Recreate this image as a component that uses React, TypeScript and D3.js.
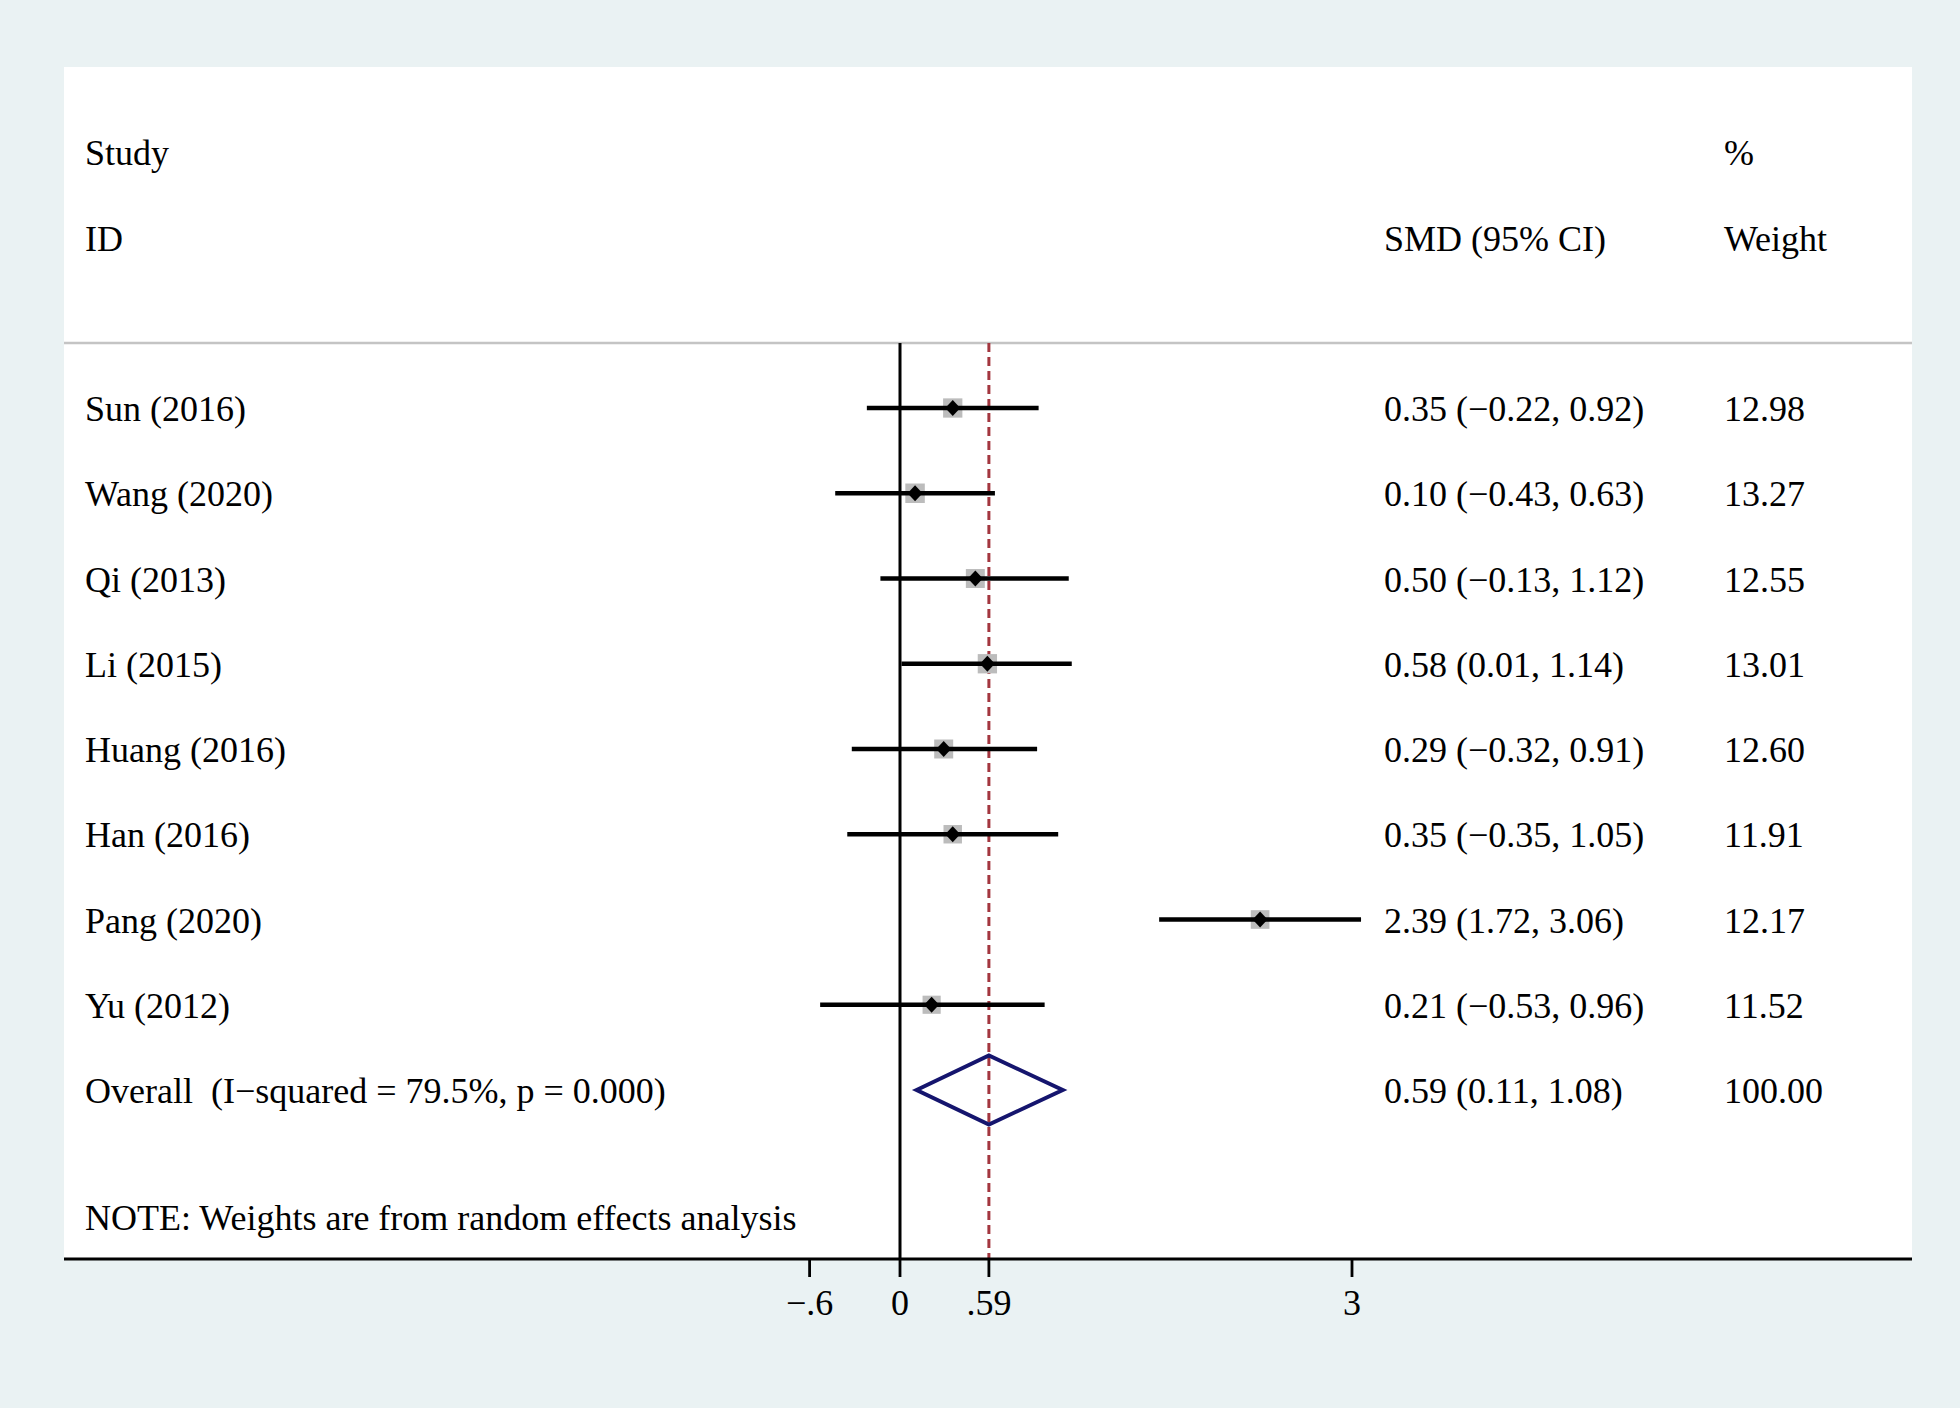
import React from "react";
import * as d3 from "d3";

const studies = ["Sun (2016)", "Wang (2020)", "Qi (2013)", "Li (2015)", "Huang (2016)", "Han (2016)", "Pang (2020)", "Yu (2012)"];
const smd = [0.35, 0.10, 0.50, 0.58, 0.29, 0.35, 2.39, 0.21];
const lower = [-0.22, -0.43, -0.13, 0.01, -0.32, -0.35, 1.72, -0.53];
const upper = [0.92, 0.63, 1.12, 1.14, 0.91, 1.05, 3.06, 0.96];
const weights = [12.98, 13.27, 12.55, 13.01, 12.60, 11.91, 12.17, 11.52];
const ciLabels = [
  "0.35 (\u22120.22, 0.92)",
  "0.10 (\u22120.43, 0.63)",
  "0.50 (\u22120.13, 1.12)",
  "0.58 (0.01, 1.14)",
  "0.29 (\u22120.32, 0.91)",
  "0.35 (\u22120.35, 1.05)",
  "2.39 (1.72, 3.06)",
  "0.21 (\u22120.53, 0.96)",
];
const weightLabels = ["12.98", "13.27", "12.55", "13.01", "12.60", "11.91", "12.17", "11.52"];
const overallLabel = "Overall  (I\u2212squared = 79.5%, p = 0.000)";
const overallEst = 0.59;
const overallLower = 0.11;
const overallUpper = 1.08;
const overallCI = "0.59 (0.11, 1.08)";
const overallWeight = "100.00";
const tickValues = [-0.6, 0, 0.59, 3];
const tickLabels = ["\u2212.6", "0", ".59", "3"];
const noteText = "NOTE: Weights are from random effects analysis";

const W = 1960;
const H = 1408;
const FONT = "'Liberation Serif', 'Times New Roman', serif";
const FS = 36;

export default function App() {
  const x = d3.scaleLinear().domain([0, 3]).range([900, 1352]);
  const rowKeys = [...studies, "Overall"];
  const y = d3.scalePoint<string>().domain(rowKeys).range([408, 1090]);
  const boxSide = (w: number) => 5.35 * Math.sqrt(w);

  const plotLeft = 64;
  const plotRight = 1912;
  const plotTop = 67;
  const axisY = 1259;
  const headerLineY = 343;

  const yo = y("Overall") as number;
  const diamond = d3.line()([
    [x(overallLower), yo],
    [x(overallEst), yo - 34.5],
    [x(overallUpper), yo],
    [x(overallEst), yo + 34.5],
  ]) + "Z";

  const textProps = { fontFamily: FONT, fontSize: FS, fill: "#000" };

  return (
    <svg width={W} height={H} style={{ position: "absolute", left: 0, top: 0, display: "block" }}>
      <rect x={0} y={0} width={W} height={H} fill="#eaf2f3" />
      <rect x={plotLeft} y={plotTop} width={plotRight - plotLeft} height={axisY - plotTop} fill="#ffffff" />

      {/* header */}
      <text x={85} y={165} {...textProps}>Study</text>
      <text x={85} y={251} {...textProps}>ID</text>
      <text x={1384} y={251} {...textProps}>SMD (95% CI)</text>
      <text x={1724} y={165} {...textProps}>%</text>
      <text x={1724} y={251} {...textProps}>Weight</text>
      <line x1={plotLeft} x2={plotRight} y1={headerLineY} y2={headerLineY} stroke="#c4c4c4" strokeWidth={2.5} />

      {/* null line */}
      <line x1={x(0)} x2={x(0)} y1={headerLineY} y2={axisY} stroke="#000" strokeWidth={3} />
      {/* overall dashed line */}
      <line x1={x(overallEst)} x2={x(overallEst)} y1={headerLineY} y2={axisY} stroke="#a3363f" strokeWidth={3} strokeDasharray="9,5" />

      {/* study rows */}
      {studies.map((s, i) => {
        const yy = y(s) as number;
        const bs = boxSide(weights[i]);
        const cx = x(smd[i]);
        return (
          <g key={s}>
            <rect x={cx - bs / 2} y={yy - bs / 2} width={bs} height={bs} fill="#bcbcbc" />
            <line x1={x(lower[i])} x2={x(upper[i])} y1={yy} y2={yy} stroke="#000" strokeWidth={4.5} />
            <path d={`M${cx - 7.5},${yy} L${cx},${yy - 8} L${cx + 7.5},${yy} L${cx},${yy + 8} Z`} fill="#000" />
            <text x={85} y={yy + 13} {...textProps}>{s}</text>
            <text x={1384} y={yy + 13} {...textProps}>{ciLabels[i]}</text>
            <text x={1724} y={yy + 13} {...textProps}>{weightLabels[i]}</text>
          </g>
        );
      })}

      {/* overall */}
      <path d={diamond} fill="none" stroke="#15156e" strokeWidth={4} strokeLinejoin="miter" />
      <text x={85} y={yo + 13} {...textProps} style={{ whiteSpace: "pre" }}>{overallLabel}</text>
      <text x={1384} y={yo + 13} {...textProps}>{overallCI}</text>
      <text x={1724} y={yo + 13} {...textProps}>{overallWeight}</text>

      <text x={85} y={1230} {...textProps}>{noteText}</text>

      {/* axis */}
      <line x1={plotLeft} x2={plotRight} y1={axisY} y2={axisY} stroke="#000" strokeWidth={2.8} />
      {tickValues.map((t, i) => (
        <g key={i}>
          <line x1={x(t)} x2={x(t)} y1={axisY} y2={axisY + 18} stroke="#000" strokeWidth={2.8} />
          <text x={x(t)} y={1315} textAnchor="middle" {...textProps}>{tickLabels[i]}</text>
        </g>
      ))}
    </svg>
  );
}
